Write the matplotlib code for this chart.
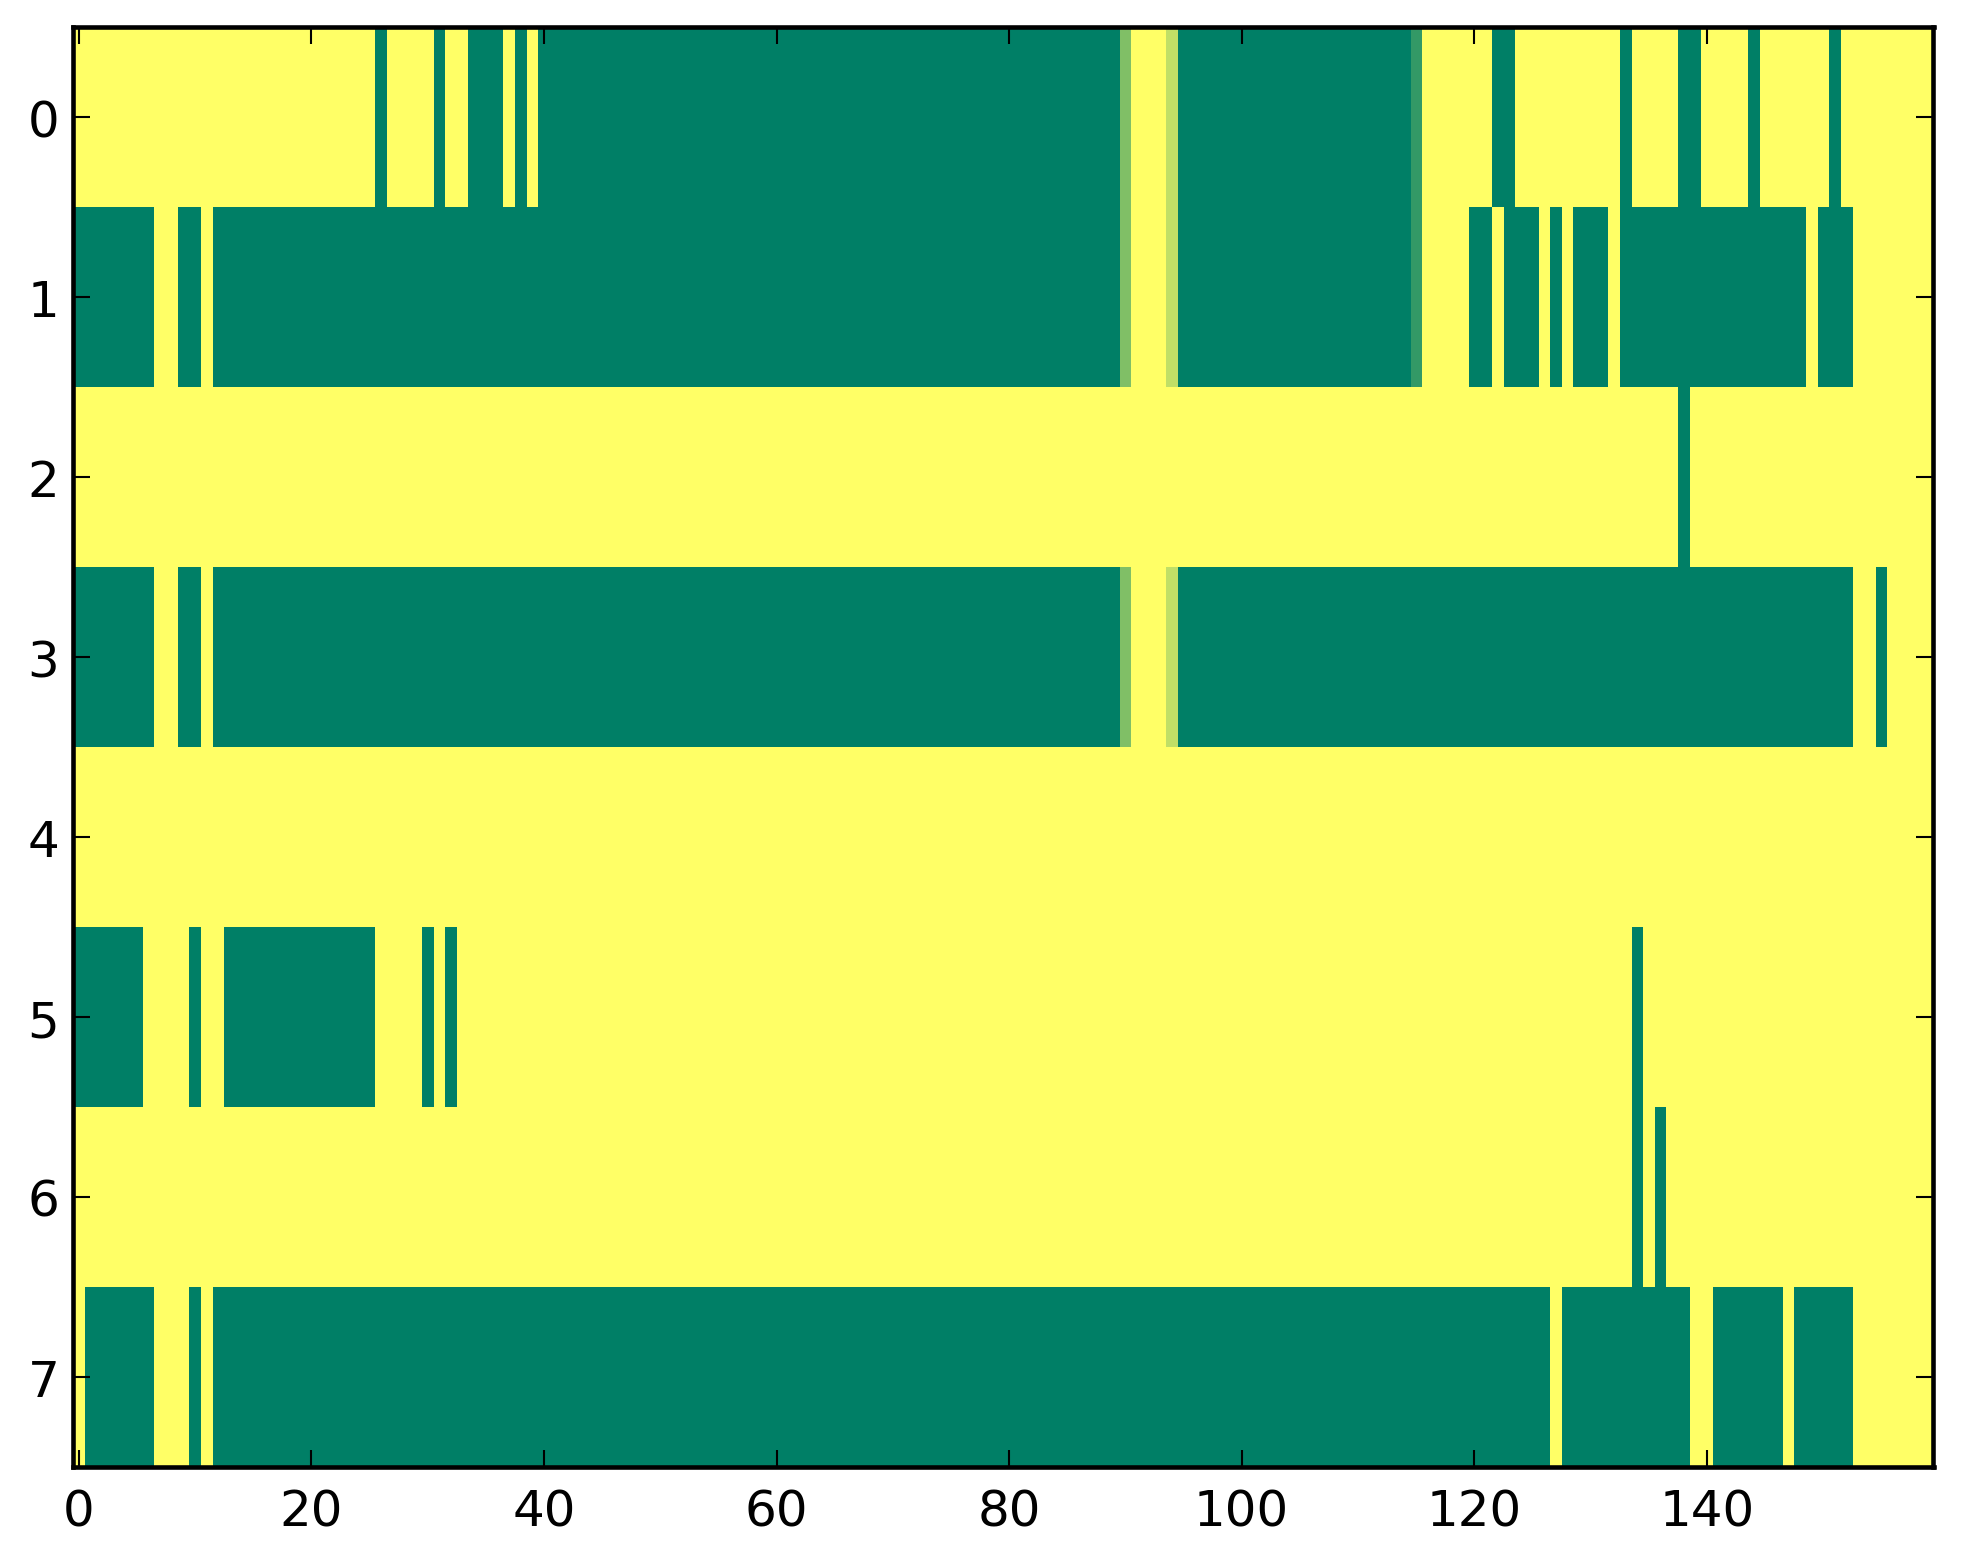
import numpy as np
import matplotlib
matplotlib.use('Agg')
import matplotlib.pyplot as plt

# each row stored as runs of (value, number of columns), read left to right
row0 = [(1, 26), (0, 1), (1, 4), (0, 1), (1, 2), (0, 3), (1, 1), (0, 1), (1, 1), (0, 50),
        (0.5, 1), (1, 3), (0.75, 1), (0, 20), (0.2, 1), (1, 6), (0, 2), (1, 9), (0, 1),
        (1, 4), (0, 2), (1, 4), (0, 1), (1, 6), (0, 1), (1, 8)]
row1 = [(0, 7), (1, 2), (0, 2), (1, 1), (0, 78), (0.5, 1), (1, 3), (0.75, 1), (0, 20),
        (0.2, 1), (1, 4), (0, 2), (1, 1), (0, 3), (1, 1), (0, 1), (1, 1), (0, 3), (1, 1),
        (0, 16), (1, 1), (0, 3), (1, 7)]
row2 = [(1, 138), (0, 1), (1, 21)]
row3 = [(0, 7), (1, 2), (0, 2), (1, 1), (0, 78), (0.5, 1), (1, 3), (0.75, 1), (0, 58),
        (1, 2), (0, 1), (1, 4)]
row4 = [(1, 160)]
row5 = [(0, 6), (1, 4), (0, 1), (1, 2), (0, 13), (1, 4), (0, 1), (1, 1), (0, 1),
        (1, 101), (0, 1), (1, 25)]
row6 = [(1, 134), (0, 1), (1, 1), (0, 1), (1, 23)]
row7 = [(1, 1), (0, 6), (1, 3), (0, 1), (1, 1), (0, 115), (1, 1), (0, 11), (1, 2),
        (0, 6), (1, 1), (0, 5), (1, 7)]

rows = [row0, row1, row2, row3, row4, row5, row6, row7]


def expand(runs):
    vals = [v for v, n in runs]
    counts = [n for v, n in runs]
    return np.repeat(vals, counts)


grid = np.vstack([expand(r) for r in rows])

plt.rcParams.update({
    'font.family': 'DejaVu Sans',
    'font.size': 12,
    'axes.linewidth': 1.1,
    'xtick.direction': 'in',
    'ytick.direction': 'in',
    'xtick.top': True,
    'ytick.right': True,
    'xtick.major.size': 4,
    'ytick.major.size': 4,
    'xtick.major.width': 0.5,
    'ytick.major.width': 0.5,
    'xtick.major.pad': 5,
    'ytick.major.pad': 3.3,
})

fig = plt.figure(figsize=(1963 / 300, 1564 / 300), dpi=300)
ax = fig.add_axes([73 / 1963, 1 - 1468 / 1564, (1933.5 - 73) / 1963, (1468 - 28) / 1564])
ax.imshow(grid, cmap='summer', vmin=0, vmax=1, aspect='auto', interpolation='nearest')
ax.set_xticks(np.arange(0, 141, 20))
ax.set_yticks(np.arange(0, 8))

fig.savefig('out.png', dpi=300)
